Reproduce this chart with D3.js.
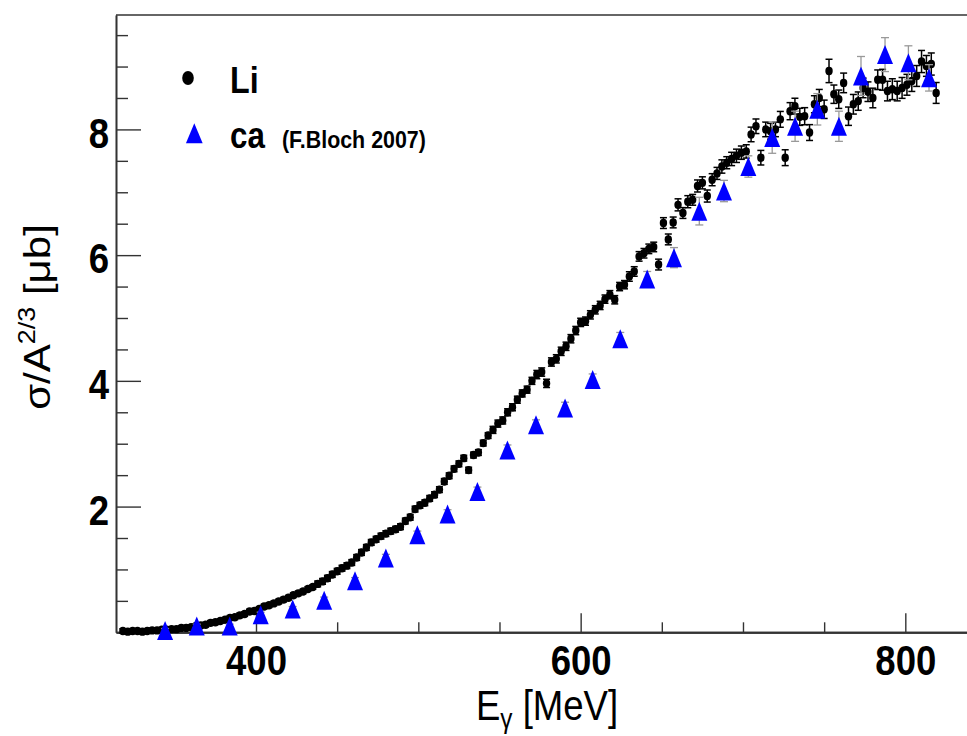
<!DOCTYPE html>
<html>
<head>
<meta charset="utf-8">
<script src="https://cdn.jsdelivr.net/npm/d3@7"></script>
<style>
  body { margin: 0; background: #fff; }
  svg { display: block; }
  text { font-family: "Liberation Sans", Arial, Helvetica, sans-serif; fill: #000; }
</style>
</head>
<body>
<svg id="chart" width="967" height="736"></svg>
<script>
// Li photoabsorption cross section per A^(2/3), E_gamma in MeV
const liEnergy = [
  318,321,324,327,330,333,336,339,342,345,
  348,351,354,357,360,363,366,369,372,375,
  378,381,384,387,390,393,396,399,402,405,
  408,411,414,417,420,423,426,429,432,435,
  438,441,444,447,450,453,456,459,462,465,
  468,471,474,477,480,483,486,489,492,495,
  498,501,504,507,510,513,516,519,522,525,
  528,531,534,537,540,543,546,549,552,555,
  558,561,564,567,570,573,576,579,582,585,
  588,591,594,597,600,603,606,609,612,615,
  618,621,624,627,630,633,636,639,642,645,
  648,651,654,657,660,663,666,669,672,675,
  678,681,684,687,690,693,696,699,702,705,
  708,711,714,717,720,723,726,729,732,735,
  738,741,744,747,750,753,756,759,762,765,
  768,771,774,777,780,783,786,789,792,795,
  798,801,804,807,810,813,816,819
];
const liSigma = [
  0.02,0.01,0.02,0.02,0.01,0.02,0.03,0.03,0.04,0.04,
  0.05,0.05,0.07,0.07,0.08,0.10,0.11,0.12,0.15,0.16,
  0.18,0.20,0.23,0.24,0.27,0.29,0.33,0.34,0.37,0.41,
  0.43,0.46,0.49,0.52,0.55,0.59,0.62,0.65,0.69,0.72,
  0.77,0.81,0.86,0.92,0.97,1.02,1.06,1.11,1.19,1.27,
  1.35,1.43,1.48,1.53,1.57,1.61,1.64,1.68,1.77,1.83,
  1.96,2.02,2.06,2.13,2.19,2.27,2.40,2.49,2.60,2.68,
  2.77,2.58,2.82,2.86,3.01,3.13,3.22,3.32,3.37,3.50,
  3.58,3.70,3.80,3.86,4.00,4.10,4.14,3.96,4.30,4.35,
  4.47,4.55,4.67,4.80,4.93,4.95,5.05,5.13,5.20,5.30,
  5.37,5.29,5.50,5.53,5.66,5.74,5.98,6.03,6.10,6.13,
  5.85,6.51,6.25,6.52,6.80,6.67,6.85,6.88,7.10,7.15,
  6.94,7.20,7.30,7.41,7.47,7.53,7.58,7.63,7.65,7.92,
  8.05,7.55,8.00,7.97,8.00,8.16,7.55,8.29,8.37,8.20,
  8.21,7.95,8.40,8.50,8.32,8.93,8.56,8.48,8.74,8.21,
  8.40,8.45,8.66,8.60,8.50,8.79,8.79,8.61,8.64,8.61,
  8.66,8.71,8.77,8.85,9.08,9.01,9.04,8.58
];
const liError = [
  0.02,0.02,0.02,0.02,0.02,0.02,0.02,0.02,0.02,0.02,
  0.02,0.02,0.02,0.02,0.02,0.02,0.02,0.02,0.02,0.02,
  0.02,0.02,0.02,0.02,0.02,0.02,0.02,0.02,0.02,0.02,
  0.02,0.02,0.02,0.02,0.02,0.02,0.02,0.02,0.02,0.02,
  0.03,0.03,0.03,0.03,0.03,0.03,0.03,0.03,0.03,0.03,
  0.03,0.03,0.03,0.03,0.03,0.03,0.03,0.03,0.03,0.03,
  0.03,0.03,0.03,0.03,0.03,0.03,0.03,0.03,0.03,0.03,
  0.03,0.03,0.03,0.03,0.03,0.03,0.04,0.04,0.04,0.04,
  0.04,0.04,0.04,0.04,0.04,0.05,0.05,0.05,0.05,0.05,
  0.05,0.05,0.05,0.05,0.05,0.05,0.05,0.05,0.05,0.05,
  0.05,0.05,0.05,0.05,0.06,0.06,0.06,0.06,0.06,0.06,
  0.07,0.07,0.07,0.07,0.08,0.07,0.08,0.07,0.08,0.08,
  0.08,0.08,0.08,0.09,0.08,0.09,0.09,0.09,0.09,0.10,
  0.10,0.10,0.10,0.11,0.10,0.11,0.11,0.12,0.11,0.12,
  0.12,0.11,0.12,0.12,0.13,0.17,0.13,0.13,0.14,0.13,
  0.14,0.13,0.14,0.14,0.14,0.14,0.15,0.14,0.15,0.14,
  0.15,0.15,0.15,0.15,0.16,0.15,0.16,0.15
];

// Ca, F. Bloch 2007
const caEnergy = [344, 363.5, 383.8, 402.9, 422.6, 442, 461, 480, 499.4, 518,
  536.4, 554.9, 572.5, 590.4, 607.4, 624.4, 641, 657.5, 673.1, 688.3,
  703.3, 718, 732.1, 745.8, 759.1, 772.7, 787.5, 801.9, 814.6];
const caSigma = [0.03, 0.10, 0.10, 0.28, 0.37, 0.51, 0.82, 1.18, 1.55, 1.88,
  2.24, 2.90, 3.30, 3.57, 4.02, 4.67, 5.62, 5.96, 6.70, 7.02,
  7.41, 7.87, 8.05, 8.32, 8.05, 8.85, 9.19, 9.06, 8.82];
const caError = [0.03, 0.03, 0.03, 0.04, 0.04, 0.05, 0.05, 0.06, 0.06, 0.07,
  0.07, 0.08, 0.08, 0.09, 0.09, 0.10, 0.12, 0.16, 0.22, 0.17,
  0.17, 0.25, 0.24, 0.25, 0.24, 0.31, 0.27, 0.27, 0.21];

// Axis ticks
const xMajorTicks = [400, 600, 800];
const xMinorTicks = [450, 500, 550, 650, 700, 750];
const yMajorTicks = [2, 4, 6, 8];
const yMinorTicks = [0.5, 1, 1.5, 2.5, 3, 3.5, 4.5, 5, 5.5, 6.5, 7, 7.5, 8.5, 9, 9.5];

// Legend entries
const legendLabels = ["Li", "ca"];
const legendNote = "(F.Bloch 2007)";

const SX = 0.87;               // horizontal squeeze of glyphs and markers
const AXIS = "#333";
const frame = { left: 116, right: 967, top: 15, bottom: 632.3 };

const svg = d3.select("#chart");
const x = d3.scaleLinear().domain([313.76, 838.0]).range([frame.left, frame.right]);
const y = d3.scaleLinear().domain([0, 9.82]).range([frame.bottom, frame.top]);

// top border of the frame
svg.append("line")
  .attr("x1", frame.left).attr("x2", frame.right)
  .attr("y1", frame.top).attr("y2", frame.top)
  .attr("stroke", AXIS).attr("stroke-width", 1.6);

function styleAxis(g, width) {
  g.select(".domain").attr("stroke", AXIS).attr("stroke-width", width);
  g.selectAll(".tick line").attr("stroke", AXIS).attr("stroke-width", 1.4);
}

// x axis: minor then major ticks, pointing into the frame
const gxMinor = svg.append("g").attr("transform", `translate(0,${frame.bottom})`)
  .call(d3.axisBottom(x).tickValues(xMinorTicks).tickSize(-10).tickSizeOuter(0).tickFormat(""));
styleAxis(gxMinor, 2);
const gx = svg.append("g").attr("transform", `translate(0,${frame.bottom})`)
  .call(d3.axisBottom(x).tickValues(xMajorTicks).tickSize(-19).tickSizeOuter(0).tickPadding(13).tickFormat(d3.format("d")));
styleAxis(gx, 2);
gx.selectAll(".tick text")
  .attr("font-size", 42).attr("font-weight", "bold").attr("fill", "#000")
  .attr("font-family", '"Liberation Sans", Arial, sans-serif')
  .attr("transform", `scale(${SX},1)`);

// y axis
const gyMinor = svg.append("g").attr("transform", `translate(${frame.left},0)`)
  .call(d3.axisLeft(y).tickValues(yMinorTicks).tickSize(-12).tickSizeOuter(0).tickFormat(""));
styleAxis(gyMinor, 1.6);
const gy = svg.append("g").attr("transform", `translate(${frame.left},0)`)
  .call(d3.axisLeft(y).tickValues(yMajorTicks).tickSize(-25).tickSizeOuter(0).tickFormat(d3.format("d")));
styleAxis(gy, 1.6);
gy.selectAll(".tick text")
  .attr("font-size", 42).attr("font-weight", "bold").attr("fill", "#000")
  .attr("font-family", '"Liberation Sans", Arial, sans-serif')
  .attr("x", -7 / SX).attr("dy", "0.42em")
  .attr("transform", `scale(${SX},1)`);

// axis titles
const xt = svg.append("text")
  .attr("transform", `translate(547,720) scale(${SX},1)`)
  .attr("text-anchor", "middle").attr("font-size", 42);
xt.append("tspan").text("E");
xt.append("tspan").attr("font-size", 28).attr("dy", 8).text("γ");
xt.append("tspan").attr("dy", -8).text(" [MeV]");

const yt = svg.append("text")
  .attr("transform", `translate(50,317) rotate(-90) scale(1,${SX})`)
  .attr("text-anchor", "middle").attr("font-size", 42);
yt.append("tspan").text("σ/A");
yt.append("tspan").attr("font-size", 27).attr("dy", -17).text("2/3");
yt.append("tspan").attr("dy", 17).text(" [μb]");

// Li points with error bars
const li = liEnergy.map((e, i) => ({ e, v: liSigma[i], err: liError[i] }));
const gLi = svg.append("g");
const liErr = gLi.append("g").attr("stroke", "#000").attr("stroke-width", 1.5);
li.forEach(d => {
  const cx = x(d.e), yt0 = y(d.v + d.err), yb0 = y(d.v - d.err);
  liErr.append("line").attr("x1", cx).attr("x2", cx).attr("y1", yt0 - 1).attr("y2", yb0 + 1);
  liErr.append("line").attr("x1", cx - 3.5).attr("x2", cx + 3.5).attr("y1", yt0 - 1).attr("y2", yt0 - 1);
  liErr.append("line").attr("x1", cx - 3.5).attr("x2", cx + 3.5).attr("y1", yb0 + 1).attr("y2", yb0 + 1);
});
gLi.selectAll("ellipse").data(li).join("ellipse")
  .attr("cx", d => x(d.e)).attr("cy", d => y(d.v))
  .attr("rx", 3.7).attr("ry", 4.2).attr("fill", "#000");

// Ca triangles with error bars
function triangle(w, h) {
  return `M0,${-h / 2}L${w / 2},${h / 2}L${-w / 2},${h / 2}Z`;
}
const ca = caEnergy.map((e, i) => ({ e, v: caSigma[i], err: caError[i] }));
const gCa = svg.append("g");
const caErr = gCa.append("g").attr("stroke", "#999").attr("stroke-width", 1.3);
ca.forEach(d => {
  const cx = x(d.e), yt0 = y(d.v + d.err), yb0 = y(d.v - d.err);
  caErr.append("line").attr("x1", cx).attr("x2", cx).attr("y1", yt0).attr("y2", yb0);
  caErr.append("line").attr("x1", cx - 4).attr("x2", cx + 4).attr("y1", yt0).attr("y2", yt0);
  caErr.append("line").attr("x1", cx - 4).attr("x2", cx + 4).attr("y1", yb0).attr("y2", yb0);
});
gCa.selectAll("path.tri").data(ca).join("path").attr("class", "tri")
  .attr("d", triangle(16, 19))
  .attr("transform", d => `translate(${x(d.e)},${y(d.v)})`)
  .attr("fill", "#0000ff");

// legend
const lg = svg.append("g");
lg.append("ellipse").attr("cx", 188).attr("cy", 78).attr("rx", 5.8).attr("ry", 7).attr("fill", "#000");
lg.append("text").attr("transform", `translate(230,93) scale(${SX},1)`)
  .attr("font-size", 37).attr("font-weight", "bold").text(legendLabels[0]);
lg.append("path").attr("d", triangle(16.7, 20)).attr("transform", "translate(194.3,133.3)").attr("fill", "#0000ff");
lg.append("text").attr("transform", `translate(230,148) scale(${SX},1)`)
  .attr("font-size", 36).attr("font-weight", "bold").text(legendLabels[1]);
lg.append("text").attr("transform", `translate(282,148) scale(${SX},1)`)
  .attr("font-size", 24.6).attr("font-weight", "bold").text(legendNote);
</script>
</body>
</html>
